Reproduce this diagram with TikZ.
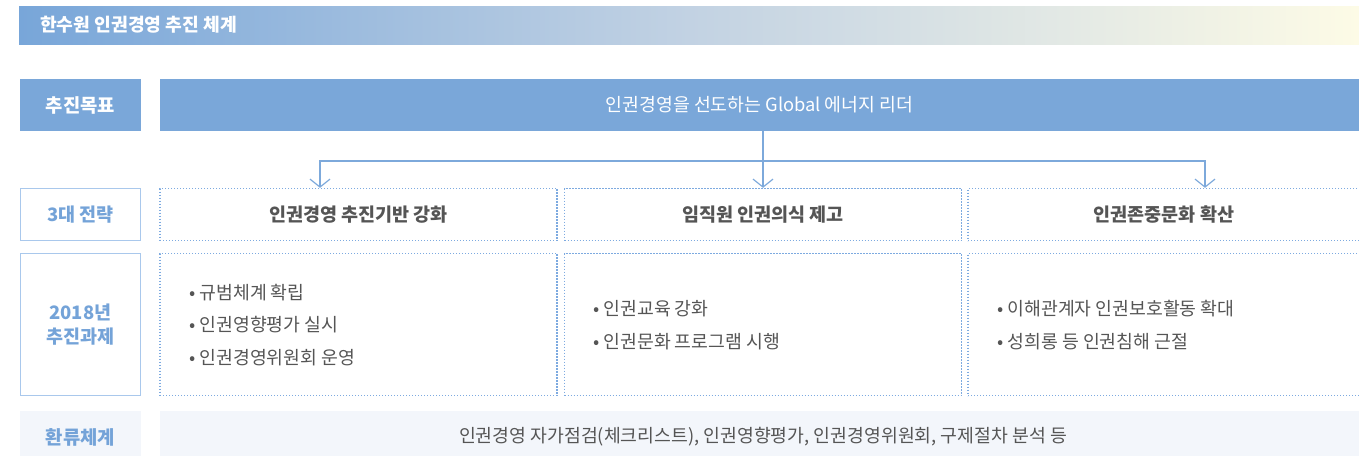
\documentclass[tikz,border=0pt]{standalone}
\usepackage{fontspec}
\setmainfont{Noto Sans CJK KR}
\usetikzlibrary{arrows.meta}
\definecolor{hblue}{HTML}{78A6D9}
\definecolor{hmid}{HTML}{C2D2E3}
\definecolor{hyel}{HTML}{FDFBE6}
\definecolor{fillblue}{HTML}{7AA7D9}
\definecolor{edgeblue}{HTML}{A9C8EC}
\definecolor{labblue}{HTML}{74A3D8}
\definecolor{dotblue}{HTML}{7DAAE0}
\definecolor{arrblue}{HTML}{7DA9DB}
\definecolor{palebg}{HTML}{F3F6FB}
\definecolor{txtgray}{HTML}{555555}
\tikzset{
  box/.style={rectangle, inner sep=0pt, anchor=center},
  filledbox/.style={box, fill=fillblue, text=white},
  labelbox/.style={box, draw=edgeblue, line width=1.2pt, text=labblue, align=center,
    font=\fontsize{18.5}{24}\selectfont\bfseries},
  palebox/.style={box, fill=palebg},
  dotbox/.style={box, draw=dotblue, line width=1.3pt, dash pattern=on 1.3pt off 1.7pt},
  conn/.style={draw=arrblue, line width=1.3pt},
  tip/.style={-{Straight Barb[length=8pt,width=20pt,line width=1.2pt]}},
  body/.style={text=txtgray, font=\fontsize{18.3}{32.5}\selectfont, align=left, anchor=west, inner sep=0pt},
  stext/.style={text=txtgray, font=\fontsize{18.5}{24}\selectfont\bfseries},
}
\begin{document}
\begin{tikzpicture}[x=1pt,y=-1pt]
\useasboundingbox (0,0) rectangle (1359,456);
% header
\node[box, minimum width=1340pt, minimum height=38pt, left color=hblue, right color=hyel, middle color=hmid] (hdr) at (689,25) {};
\node[anchor=west, inner sep=0pt, text=white, font=\fontsize{18.2}{22}\selectfont\bfseries] (hdrtxt) at (40,25) {한수원 인권경영 추진 체계};
% left labels
\node[filledbox, minimum width=121pt, minimum height=52pt, font=\fontsize{18.8}{24}\selectfont\bfseries] (l1) at (80.5,105) {추진목표};
\node[labelbox, minimum width=120pt, minimum height=52pt] (l2) at (80.5,214.5) {3대 전략};
\node[labelbox, minimum width=120pt, minimum height=142pt] (l3) at (80.5,324.5) {2018년\\추진과제};
\node[palebox, minimum width=121pt, minimum height=45pt] (l4) at (80.5,433.5) {};
\node[text=labblue, font=\fontsize{18.8}{24}\selectfont\bfseries, inner sep=0pt] (l4t) at (80.5,437) {환류체계};
% goal
\node[filledbox, minimum width=1199pt, minimum height=52pt, font=\fontsize{18.3}{22}\selectfont] (goal) at (759.5,105) {인권경영을 선도하는 Global 에너지 리더};
% strategy row
\node[dotbox, stext, minimum width=397pt, minimum height=52pt] (s1) at (358.5,214.5) {인권경영 추진기반 강화};
\node[dotbox, stext, minimum width=397pt, minimum height=52pt] (s2) at (763,214.5) {임직원 인권의식 제고};
\node[dotbox, stext, minimum width=392pt, minimum height=52pt] (s3) at (1164,214.5) {인권존중문화 확산};
% task row
\node[dotbox, minimum width=397pt, minimum height=142pt] (t1) at (358.5,324.5) {};
\node[dotbox, minimum width=397pt, minimum height=142pt] (t2) at (763,324.5) {};
\node[dotbox, minimum width=392pt, minimum height=142pt] (t3) at (1164,324.5) {};
\node[body] (t1t) at (189,325) {• 규범체계 확립\\• 인권영향평가 실시\\• 인권경영위원회 운영};
\node[body] (t2t) at (593,325) {• 인권교육 강화\\• 인권문화 프로그램 시행};
\node[body] (t3t) at (997,325) {• 이해관계자 인권보호활동 확대\\• 성희롱 등 인권침해 근절};
% feedback row
\node[palebox, minimum width=1199pt, minimum height=45pt] (fb) at (759.5,433.5) {};
\node[text=txtgray, font=\fontsize{18.3}{22}\selectfont, inner sep=0pt] (fbt) at (763,437) {인권경영 자가점검(체크리스트), 인권영향평가, 인권경영위원회, 구제절차 분석 등};
% connectors
\coordinate (j) at (763,161);
\draw[conn] (goal.south -| s2.north) -- (j);
\draw[conn, tip] (j) -- (s2.north);
\draw[conn, tip] (j) -| ([xshift=-38.5pt]s1.north);
\draw[conn, tip] (j) -| ([xshift=41pt]s3.north);
\end{tikzpicture}
\end{document}
